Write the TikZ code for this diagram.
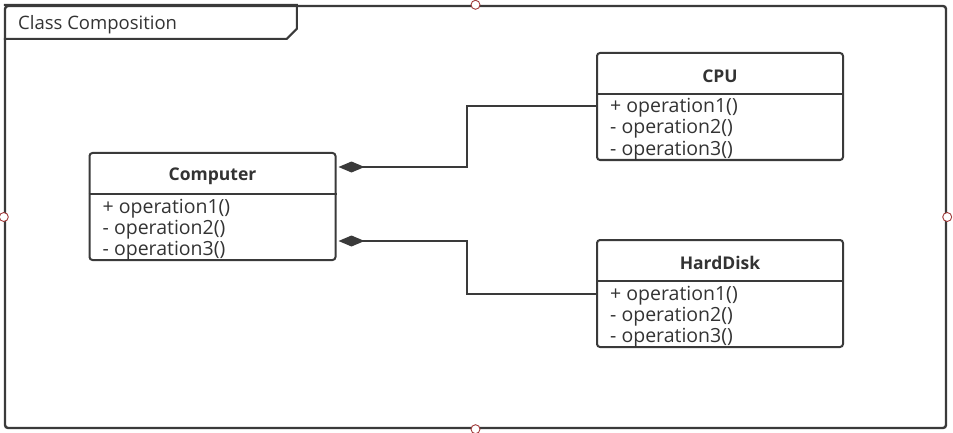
\documentclass[tikz,border=0pt]{standalone}
\usepackage{fontspec}
\setmainfont{Open Sans}
\usetikzlibrary{positioning}
\usetikzlibrary{calc}
\usetikzlibrary{arrows.meta}
\definecolor{linegray}{HTML}{3A3A3A}
\definecolor{textgray}{HTML}{333333}
\definecolor{handlered}{HTML}{A03A3A}
\tikzset{
    frame/.style = {draw=linegray, line width=2.4pt, rounded corners=3pt, minimum width=941pt, minimum height=422pt, inner sep=0pt},
    classbox/.style = {draw=linegray, line width=2pt, rounded corners=3pt, minimum width=246pt, minimum height=107pt, inner sep=0pt},
    classname/.style = {text=textgray, font=\bfseries\fontsize{17.5}{20}\selectfont},
    operation/.style = {text=textgray, font=\fontsize{19.5}{22}\selectfont, inner sep=0pt, anchor=base west},
    handle/.style = {circle, draw=handlered, fill=white, line width=0.9pt, minimum size=9pt, inner sep=0pt},
    composite/.style = {draw=linegray, line width=2pt, -{Diamond[fill=linegray, length=26pt, width=11pt]}}}
\begin{document}
\begin{tikzpicture}[x=1pt, y=-1pt]
        \useasboundingbox (0,0) rectangle (953,433);
        % package frame
        \node[frame] (F) at (475.5,217) {};
        \draw[linegray, line width=2pt] ($(F.north west)+(0,0)$) -- ++(293,0) -- ++(0,24) -- ++(-10,10) -- ++(-283,0);
        \node[text=textgray, font=\fontsize{18.5}{21}\selectfont, anchor=base west, inner sep=0pt] (title) at (18,29.5) {Class Composition};
        % classes
        \foreach \cls/\name/\x/\y in {computer/Computer/212.5/206.5, cpu/CPU/720/106.5, hdd/HardDisk/720/293.5} {
            \node[classbox] (\cls) at (\x,\y) {};
            \draw[linegray, line width=2pt] ($(\cls.north west)+(0,42)$) -- ($(\cls.north east)+(0,42)$);
            \node[classname] (\cls-name) at ($(\cls.north)+(0,24)$) {\name};
            \foreach \op [count=\i from 0] in {{+ operation1()}, {- operation2()}, {- operation3()}}
                \node[operation] (\cls-op\i) at ($(\cls.north west)+(14,61+21*\i)$) {\op};
        }
        % compositions
        \coordinate (C1) at ($(computer.north east)+(2,15)$);
        \coordinate (C2) at ($(computer.south east)+(2,-20)$);
        \draw[composite] (cpu.west) -| ($(cpu.west)!0.5!(C1)$) |- (C1);
        \draw[composite] (hdd.west) -| ($(hdd.west)!0.5!(C2)$) |- (C2);
        % selection handles
        \foreach \a in {north, south, east, west}
            \node[handle] (h-\a) at (F.\a) {};
\end{tikzpicture}
\end{document}
